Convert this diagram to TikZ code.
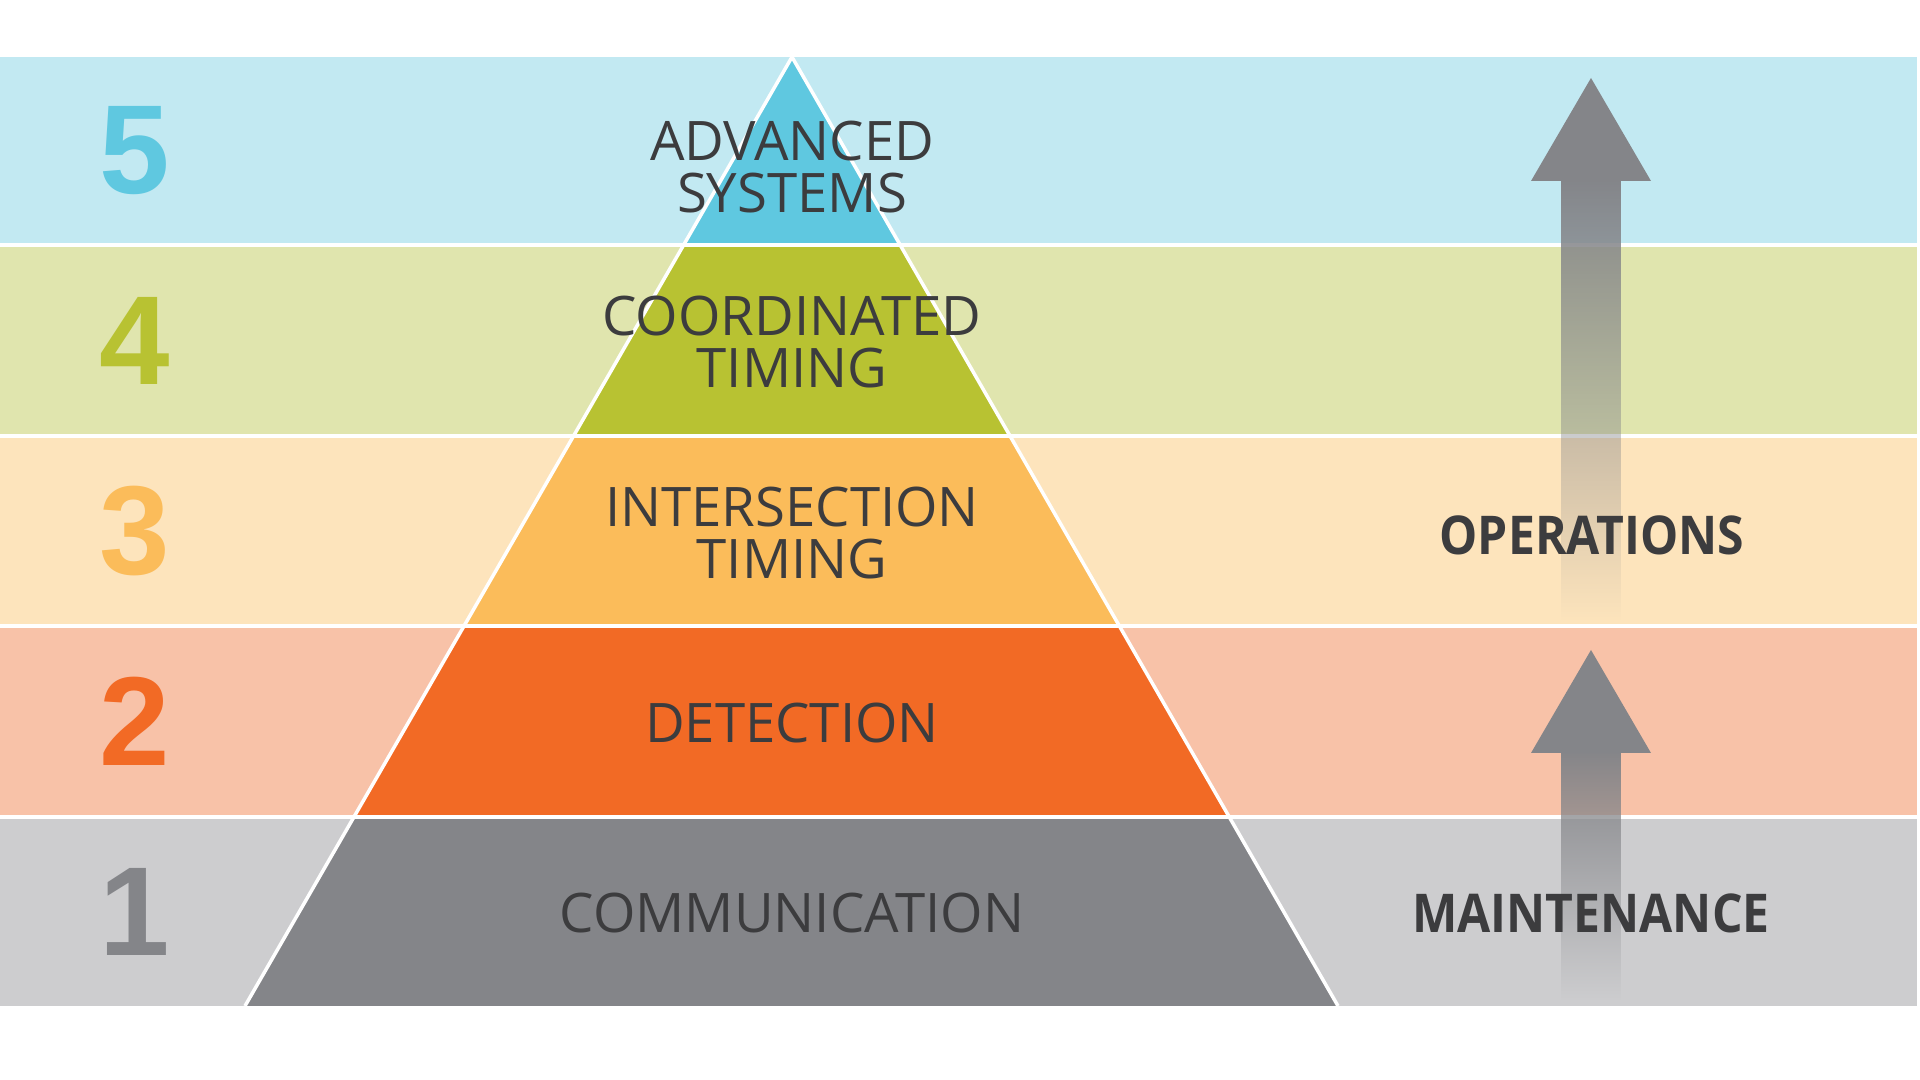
\documentclass[tikz,border=0pt]{standalone}
\usepackage{fontspec}
\setmainfont{Open Sans}[BoldFeatures={FakeStretch=0.9}]
\newfontfamily\numfont{Liberation Sans}
\usetikzlibrary{fadings}

\definecolor{bandfive}{HTML}{C2E9F2}
\definecolor{pyrfive}{HTML}{5FC8E0}
\definecolor{bandfour}{HTML}{E0E5AE}
\definecolor{pyrfour}{HTML}{B8C232}
\definecolor{bandthree}{HTML}{FDE4BC}
\definecolor{pyrthree}{HTML}{FBBC5A}
\definecolor{bandtwo}{HTML}{F8C2A8}
\definecolor{pyrtwo}{HTML}{F26A25}
\definecolor{bandone}{HTML}{CDCDCF}
\definecolor{pyrone}{HTML}{848589}
\definecolor{labeltext}{HTML}{3C3C3E}

\tikzfading[name=shaftfade, top color=transparent!0, bottom color=transparent!100]

\begin{document}
\begin{tikzpicture}[x=0.01cm,y=-0.01cm,
  tiertext/.style={font=\fontsize{15.5}{14.8}\selectfont, text=labeltext, align=center, inner sep=0pt},
  sidetext/.style={font=\fontsize{15.2}{15}\selectfont\bfseries, text=labeltext, inner sep=0pt},
  tiernum/.style={font=\numfont\bfseries\fontsize{36}{36}\selectfont, inner sep=0pt}]
\useasboundingbox[fill=white] (0,0) rectangle (1920,1080);

% bands and pyramid layers
\foreach \ytop/\ybot/\bg/\fg/\num in {57/245/bandfive/pyrfive/5,245/436/bandfour/pyrfour/4,436/626/bandthree/pyrthree/3,626/817/bandtwo/pyrtwo/2,817/1006/bandone/pyrone/1}{
  \fill[\bg] (0,\ytop) rectangle (1917,\ybot);
  \begin{scope}
    \clip (792,57) -- (245,1006) -- (1338,1006) -- cycle;
    \fill[\fg] (0,\ytop) rectangle (1917,\ybot);
  \end{scope}
  \node[tiernum,text=\fg] (num\num) at (135,{(\ytop+\ybot)/2}) {\num};
}

\foreach \y in {245,436,626,817}
  \draw[white,line width=1pt] (0,\y) -- (1917,\y);
\draw[white,line width=1pt] (245,1006) -- (792,57) -- (1338,1006);

% arrows
\coordinate (optip) at (1591,78);
\coordinate (mttip) at (1591,650);
\fill[pyrone,path fading=shaftfade] (1561,178) rectangle (1621,620);
\fill[pyrone] (optip) -- ++(60,103) -- ++(-120,0) -- cycle;
\fill[pyrone,path fading=shaftfade] (1561,750) rectangle (1621,1000);
\fill[pyrone] (mttip) -- ++(60,103) -- ++(-120,0) -- cycle;

\node[tiertext] (advanced) at (792,167) {ADVANCED\\SYSTEMS};
\node[tiertext] (coordinated) at (792,342) {COORDINATED\\TIMING};
\node[tiertext] (intersection) at (792,533) {INTERSECTION\\TIMING};
\node[tiertext] (detection) at (792,723) {DETECTION};
\node[tiertext] (communication) at (792,913) {COMMUNICATION};

\node[sidetext] (operations) at (1592,535) {OPERATIONS};
\node[sidetext] (maintenance) at (1591,913) {MAINTENANCE};

\end{tikzpicture}
\end{document}
